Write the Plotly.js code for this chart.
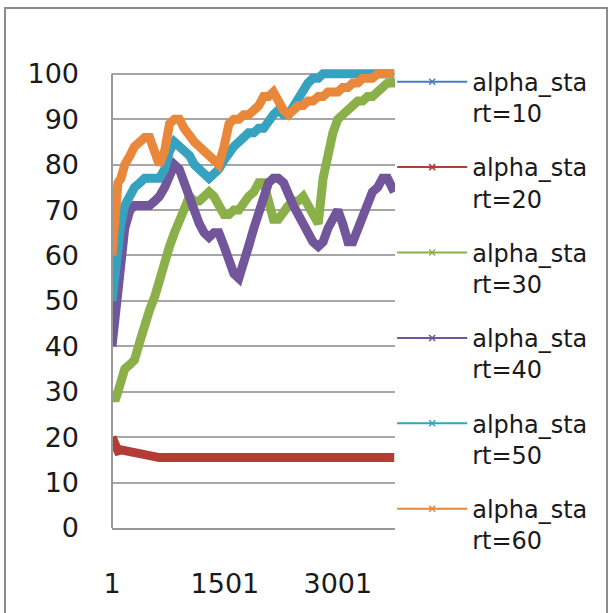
<!DOCTYPE html>
<html><head><meta charset="utf-8">
<script src="https://cdn.plot.ly/plotly-3.0.1.min.js"></script>
<style>
html,body{margin:0;padding:0;background:#fff;}
#chart{width:614px;height:613px;}
#frame{position:absolute;left:4px;top:7px;width:600px;height:620px;border:2px solid #8c8c8c;pointer-events:none;}
</style>
</head><body>
<div id="chart"></div>
<div id="frame"></div>
<script>
// sample step indices (category positions)
const steps = [1,40,80,120,170,240,300,370,435,500,570,630,700,765,830,895,960,1030,1095,1160,1225,1290,1355,1420,1490,1555,1620,1685,1750,1815,1885,1950,2015,2080,2145,2210,2280,2345,2410,2475,2540,2605,2670,2740,2805,2870,2935,3000,3065,3135,3200,3265,3330,3395,3460,3530,3595,3660,3725,3750];

const start10 = [];
const start20 = [20,18,17,17.2,17,16.8,16.5,16.2,15.9,15.6,15.5,15.5,15.5,15.5,15.5,15.5,15.5,15.5,15.5,15.5,15.5,15.5,15.5,15.5,15.5,15.5,15.5,15.5,15.5,15.5,15.5,15.5,15.5,15.5,15.5,15.5,15.5,15.5,15.5,15.5,15.5,15.5,15.5,15.5,15.5,15.5,15.5,15.5,15.5,15.5,15.5,15.5,15.5,15.5,15.5,15.5,15.5,15.5,15.5,15.5];
const start30 = [30,28,30,33,35,36,37,41,45,48,51,55,59,62,65,68,71,73,72,72,73,74,73,71,69,69,70,70,72,73,74,76,76,72,68,68,70,71,72,72,73,71,69,67,77,83,87,90,91,92,93,94,94,95,95,96,97,98,98,99];
const start40 = [40,46,55,62,66,70,71,71,71,71,72,73,75,78,80,79,76,72,69,67,65,64,65,65,62,59,56,55,58,62,66,69,73,76,77,77,76,73,71,69,67,65,63,62,63,66,68,70,67,63,63,66,69,72,74,75,77,77,75,74];
const start50 = [50,57,63,67,71,73,75,76,77,77,77,77,79,83,85,84,83,82,80,79,78,77,78,79,81,83,84,85,86,87,87,88,88,90,91,92,91,91,93,95,97,98,99,99,100,100,100,100,100,100,100,100,100,100,100,100,100,100,100,100];
const start60 = [60,68,76,77,80,82,84,85,86,86,82,80,83,89,90,90,88,86,85,84,83,82,81,80,84,89,90,90,91,91,92,93,95,95,96,94,92,91,92,93,93,94,94,95,95,96,96,96,97,97,98,98,99,99,99,100,100,100,100,100];

const seriesNames = ['alpha_sta<br>rt=10','alpha_sta<br>rt=20','alpha_sta<br>rt=30','alpha_sta<br>rt=40','alpha_sta<br>rt=50','alpha_sta<br>rt=60'];
const seriesData = [start10,start20,start30,start40,start50,start60];
const colors = ['#4A7EBB','#B43C36','#8BB04A','#72569C','#37A2BF','#E9873A'];
const xTicks = [1,1501,3001];
const yTicks = [0,10,20,30,40,50,60,70,80,90,100];

const traces = [];
seriesData.forEach((d,i)=>{
  traces.push({
    x: steps.slice(0,d.length), y: d, type:'scatter', mode:'lines',
    line:{color:colors[i], width:9}, showlegend:false, legendgroup:'g'+i, hoverinfo:'skip'
  });
});
seriesNames.forEach((n,i)=>{
  traces.push({
    x:[null], y:[null], type:'scatter', mode:'lines+markers', name:n,
    line:{color:colors[i], width:2}, marker:{symbol:'x-thin-open', size:6, color:colors[i], line:{color:colors[i], width:1.5}},
    legendgroup:'g'+i, showlegend:true
  });
});

const layout = {
  width:614, height:613,
  margin:{l:112, r:219, t:67, b:85},
  paper_bgcolor:'#fff', plot_bgcolor:'#fff',
  font:{family:'DejaVu Sans, Verdana, sans-serif', color:'#1a1a1a'},
  showlegend:true,
  legend:{x:0.99, xanchor:'left', y:1.016, yanchor:'top', font:{size:24, color:'#1a1a1a'},
          itemwidth:70, valign:'top', tracegroupgap:20, traceorder:'grouped', bgcolor:'rgba(0,0,0,0)', maxheight:600},
  xaxis:{range:[1,3760], tickvals:xTicks, ticktext:xTicks.map(String), showgrid:false, zeroline:false,
         showline:true, linecolor:'#999', linewidth:2, ticks:'', ticklabelstandoff:31, tickfont:{size:27}},
  yaxis:{range:[0,101.5], tickvals:yTicks, showgrid:true, gridcolor:'#a6a6a6', gridwidth:2, zeroline:false,
         showline:false, ticks:'', ticklabelstandoff:32, tickfont:{size:27}},
  shapes:[{type:'line', xref:'paper', yref:'y', x0:0, x1:0, y0:0, y1:100, line:{color:'#999', width:2}}]
};
Plotly.newPlot('chart', traces, layout, {displayModeBar:false, staticPlot:true});
</script>
</body></html>
